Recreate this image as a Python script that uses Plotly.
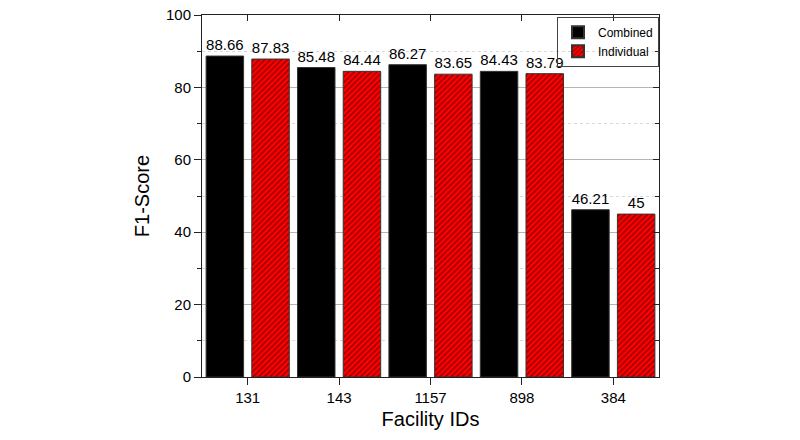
import plotly.graph_objects as go

facility_ids = ["131", "143", "1157", "898", "384"]
combined = [88.66, 85.48, 86.27, 84.43, 46.21]
individual = [87.83, 84.44, 83.65, 83.79, 45]
y_ticks = [0, 20, 40, 60, 80, 100]

FONT = "Liberation Sans, Arial, sans-serif"
AX = "#222222"

fig = go.Figure()
fig.add_trace(go.Bar(
    x=facility_ids, y=combined, name="Combined",
    marker=dict(color="black", line=dict(color="#333333", width=1)),
    text=[f"{v:g}" for v in combined], textposition="outside",
    textfont=dict(size=15, color="black", family=FONT),
    constraintext="none", cliponaxis=False,
))
fig.add_trace(go.Bar(
    x=facility_ids, y=individual, name="Individual",
    marker=dict(color="#ff0000", line=dict(color="#333333", width=1),
                pattern=dict(shape="/", fgcolor="black", bgcolor="#ff0000",
                             size=4, solidity=0.3)),
    text=[f"{v:g}" for v in individual], textposition="outside",
    textfont=dict(size=15, color="black", family=FONT),
    constraintext="none", cliponaxis=False,
))
# invisible trace to carry mirrored (inside-tick) axes on top/right
fig.add_trace(go.Scatter(
    x=facility_ids, y=combined, xaxis="x2", yaxis="y2", mode="markers",
    marker=dict(opacity=0), showlegend=False, hoverinfo="skip",
))

fig.update_layout(
    width=800, height=440,
    margin=dict(l=202, r=141, t=15, b=63, autoexpand=False),
    paper_bgcolor="white", plot_bgcolor="white",
    font=dict(family=FONT, color="black"),
    barmode="group", bargap=0, bargroupgap=0.18,
    showlegend=True,
    legend=dict(x=1, xanchor="right", y=0.995, yanchor="top",
                bordercolor="#444444", borderwidth=1,
                bgcolor="rgba(255,255,255,0)",
                font=dict(size=12, family=FONT), tracegroupgap=0,
                itemsizing="constant"),
    xaxis=dict(
        type="category", categoryorder="array", categoryarray=facility_ids,
        range=[-0.5, 4.5], showline=True, linecolor=AX, linewidth=1,
        ticks="outside", ticklen=7, tickcolor=AX, tickwidth=1,
        tickfont=dict(size=15), showgrid=False, zeroline=False,
        automargin=False,
        title=dict(text="Facility IDs", font=dict(size=20), standoff=6),
    ),
    xaxis2=dict(
        type="category", categoryorder="array", categoryarray=facility_ids,
        range=[-0.5, 4.5], overlaying="x", side="top", showline=True,
        linecolor=AX, linewidth=1, ticks="inside", ticklen=6, tickcolor=AX,
        showticklabels=False, showgrid=False, zeroline=False,
        automargin=False,
    ),
    yaxis=dict(
        range=[0, 100], tickvals=y_ticks, showline=True, linecolor=AX,
        linewidth=1, ticks="outside", ticklen=7, tickcolor=AX,
        tickfont=dict(size=15), showgrid=True, gridcolor="#b4b4b4",
        gridwidth=1, zeroline=False, automargin=False,
        ticklabeloverflow="allow",
        minor=dict(dtick=10, ticks="outside", ticklen=4, tickcolor=AX,
                   showgrid=True, gridcolor="#d8d8d8", griddash="dot",
                   gridwidth=1),
        title=dict(text="F1-Score", font=dict(size=20), standoff=10),
    ),
    yaxis2=dict(
        range=[0, 100], tickvals=y_ticks, overlaying="y", side="right",
        showline=True, linecolor=AX, linewidth=1, ticks="inside",
        ticklen=6, tickcolor=AX, showticklabels=False, showgrid=False,
        zeroline=False, automargin=False,
        minor=dict(dtick=10, ticks="inside", ticklen=4, tickcolor=AX,
                   showgrid=False),
    ),
)

fig.write_html("out.html", config={"displayModeBar": False},
               post_script="document.body.style.margin='0';")
